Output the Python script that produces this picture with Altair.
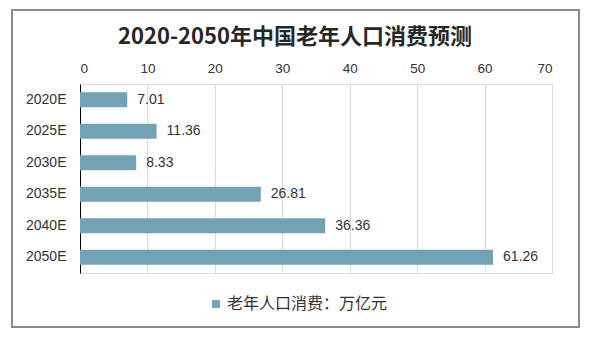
import altair as alt
import pandas as pd

years = ["2020E", "2025E", "2030E", "2035E", "2040E", "2050E"]
values = [7.01, 11.36, 8.33, 26.81, 36.36, 61.26]
series_name = "老年人口消费：万亿元"
x_ticks = [0, 10, 20, 30, 40, 50, 60, 70]

df = pd.DataFrame({"year": years, "value": values, "series": [series_name] * len(years)})

CJK = "Noto Sans CJK SC"
LAT = "Liberation Sans"
BAR_COLOR = "#73A2B5"

base = alt.Chart(df)

bars = base.mark_bar(color=BAR_COLOR).encode(
    y=alt.Y("year:N", sort=years, title=None,
            scale=alt.Scale(paddingInner=0.52, paddingOuter=0.26),
            axis=alt.Axis(labelFont=LAT, labelFontSize=14, labelColor="#333333",
                          ticks=False, labelPadding=14, domainColor="#000000",
                          domainWidth=1, grid=False)),
    x=alt.X("value:Q", title=None,
            scale=alt.Scale(domain=[0, 70], nice=False),
            axis=alt.Axis(orient="top", values=x_ticks, labelFont=LAT, labelFontSize=13.5,
                          labelColor="#333333", ticks=False, domain=False,
                          labelPadding=9, grid=True, gridColor="#D9D9D9", gridWidth=1)),
    fill=alt.Fill("series:N", scale=alt.Scale(range=[BAR_COLOR]),
                  legend=alt.Legend(title=None, orient="none", legendX=128, legendY=212,
                                    symbolType="square", symbolSize=64,
                                    symbolStrokeWidth=0, labelLimit=400,
                                    labelFont=CJK, labelFontSize=16, labelColor="#333333",
                                    labelOffset=3)),
)

labels = base.mark_text(align="left", baseline="middle", dx=10, font=LAT,
                        fontSize=14, color="#333333").encode(
    y=alt.Y("year:N", sort=years),
    x=alt.X("value:Q"),
    text=alt.Text("value:Q", format=".2f"),
)

border = alt.Chart(df).mark_rect(fill=None, stroke="#8C8C8C", strokeWidth=1.5).encode(
    x=alt.value(-68), x2=alt.value(499), y=alt.value(-74), y2=alt.value(243)
)

chart = alt.layer(border, bars, labels).properties(
    width=472, height=189,
    title=alt.TitleParams("2020-2050年中国老年人口消费预测", font=CJK, fontSize=22,
                          fontWeight="bold", color="#262626", anchor="middle",
                          dx=-21, offset=-40),
    autosize=alt.AutoSizeParams(type="none"),
    padding={"left": 80, "top": 84, "right": 48, "bottom": 64},
).configure_view(stroke=None).configure(background="#FFFFFF")

chart.save("out.html", embed_options={"renderer": "svg", "actions": False})
